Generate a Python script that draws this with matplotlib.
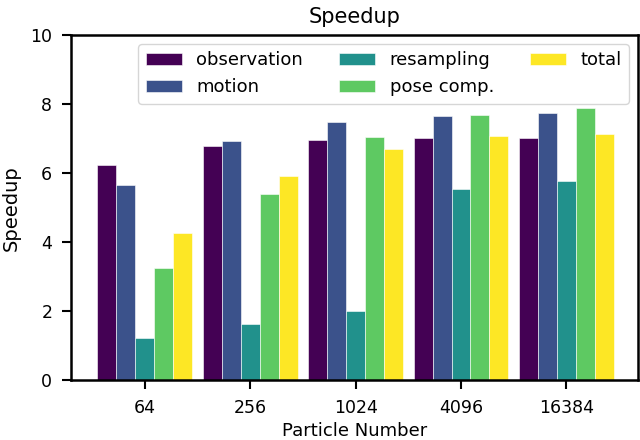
import numpy as np
import matplotlib
matplotlib.use("Agg")
import matplotlib.pyplot as plt

# ---------- data ----------
particles = ["64", "256", "1024", "4096", "16384"]
observation = [6.24, 6.78, 6.97, 7.02, 7.01]
motion = [5.66, 6.92, 7.48, 7.65, 7.75]
resampling = [1.23, 1.63, 2.00, 5.55, 5.76]
pose_comp = [3.26, 5.41, 7.04, 7.70, 7.88]
total = [4.27, 5.91, 6.70, 7.08, 7.13]

series = [("observation", observation), ("motion", motion),
          ("resampling", resampling), ("pose comp.", pose_comp),
          ("total", total)]
colors = plt.cm.viridis(np.linspace(0, 1, len(series)))

# ---------- plot ----------
fig = plt.figure(figsize=(6.4, 4.4), dpi=100)
ax = fig.add_axes([0.111, 0.136, 0.886, 0.784])

x = np.arange(len(particles))
w = 0.18
for i, (name, vals) in enumerate(series):
    ax.bar(x + (i - 2) * w, vals, w, color=colors[i], label=name,
           edgecolor="white", linewidth=0.4)

ax.set_xticks(x)
ax.set_xticklabels(particles)
ax.set_xlim(-0.70, 4.68)
ax.set_ylim(0, 10)
ax.set_yticks([0, 2, 4, 6, 8, 10])
ax.set_title("Speedup", fontsize=15, pad=9)
ax.set_ylabel("Speedup", fontsize=14, labelpad=7)
ax.set_xlabel("Particle Number", fontsize=13, labelpad=4)
for s in ax.spines.values():
    s.set_linewidth(1.8)
ax.tick_params(width=1.5, length=6.5, pad=7, labelsize=12.5)
ax.legend(ncol=3, loc="upper right", fontsize=13)

fig.savefig("out.png", dpi=100)
